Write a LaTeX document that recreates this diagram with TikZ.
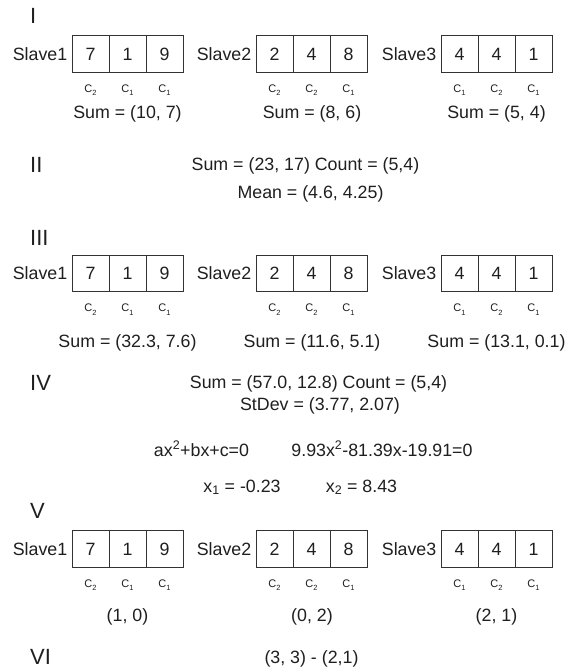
\documentclass[tikz,border=0pt]{standalone}
\usepackage{fontspec}
\setmainfont{Liberation Sans}
\newcommand\csub[1]{C\raisebox{-3.5pt}{\fontsize{7.5}{7.5}\selectfont #1}}
\tikzset{
  every node/.style={inner sep=0pt, text=black!88},
  cell/.style={draw=black!80, line width=0.8pt, minimum width=37pt, minimum height=36.5pt, font=\fontsize{17.8}{20}\selectfont},
  txt/.style={anchor=base, font=\fontsize{17.8}{20}\selectfont},
  roman/.style={anchor=base west, font=\fontsize{22}{24}\selectfont},
  clbl/.style={anchor=base, font=\fontsize{11}{12}\selectfont},
}
\begin{document}
\begin{tikzpicture}[x=1pt,y=-1pt]
\useasboundingbox (0,0) rectangle (572,670);
\fill[white] (0,0) rectangle (572,670);
% roman numerals
\node[roman] (n1) at (30,23) {I};
\node[roman] (n2) at (30,172) {II};
\node[roman] (n3) at (30,245) {III};
\node[roman] (n4) at (30,390) {IV};
\node[roman] (n5) at (30,518) {V};
\node[roman] (n6) at (30,664) {VI};
% rows of boxes
\foreach \r/\yc/\sa/\sb/\sc/\sy in {1/54/{Sum = (10, 7)}/{Sum = (8, 6)}/{Sum = (5, 4)}/118,
    3/273.5/{Sum = (32.3, 7.6)}/{Sum = (11.6, 5.1)}/{Sum = (13.1, 0.1)}/347.5,
    5/549/{(1, 0)}/{(0, 2)}/{(2, 1)}/621} {
  \foreach \b/\bx/\va/\vb/\vc/\ca/\cb/\cc in {1/72/7/1/9/2/1/1, 2/256/2/4/8/2/2/1, 3/441/4/4/1/1/2/1} {
    \node[cell] (r\r-b\b-1) at (\bx+18.5,\yc) {\va};
    \node[cell] (r\r-b\b-2) at (\bx+55.5,\yc) {\vb};
    \node[cell] (r\r-b\b-3) at (\bx+92.5,\yc) {\vc};
    \node[txt, anchor=base east] (r\r-lab\b) at (\bx-4.5,\yc+6.4) {Slave\b};
    \node[clbl] (r\r-c\b-1) at (\bx+18.5,\yc+38.2) {\csub{\ca}};
    \node[clbl] (r\r-c\b-2) at (\bx+55.5,\yc+38.2) {\csub{\cb}};
    \node[clbl] (r\r-c\b-3) at (\bx+92.5,\yc+38.2) {\csub{\cc}};
  }
  \node[txt] (r\r-sum1) at (127.5,\sy) {\sa};
  \node[txt] (r\r-sum2) at (312,\sy) {\sb};
  \node[txt] (r\r-sum3) at (496.5,\sy) {\sc};
}
% step II
\node[txt] (ii1) at (305.5,170.5) {Sum = (23, 17) Count = (5,4)};
\node[txt] (ii2) at (310.5,198.5) {Mean = (4.6, 4.25)};
% step IV
\node[txt] (iv1) at (318.5,388.5) {Sum = (57.0, 12.8) Count = (5,4)};
\node[txt] (iv2) at (320,410) {StDev = (3.77, 2.07)};
\node[txt] (eq1) at (201.5,456) {ax\textsuperscript{2}+bx+c=0};
\node[txt] (eq2) at (382,456) {9.93x\textsuperscript{2}-81.39x-19.91=0};
\node[txt] (x1) at (242,492) {x\textsubscript{1} = -0.23};
\node[txt] (x2) at (361.5,492) {x\textsubscript{2} = 8.43};
% step VI
\node[txt] (vi1) at (311.5,663) {(3, 3) - (2,1)};
\end{tikzpicture}
\end{document}
